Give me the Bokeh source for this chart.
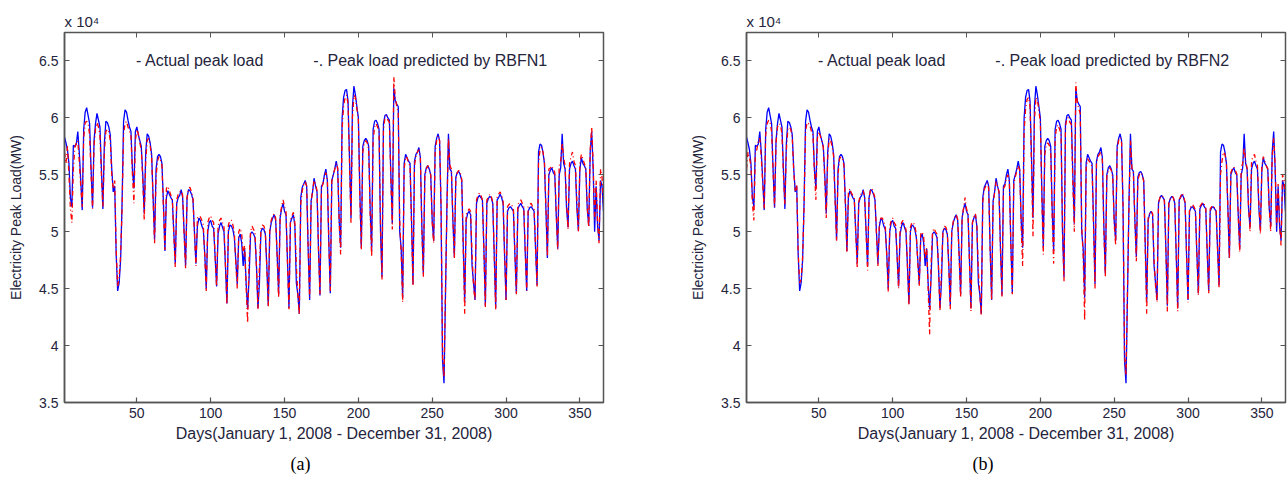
from bokeh.plotting import figure
from bokeh.models import Range1d, LinearAxis, FixedTicker, CustomJSTickFormatter, Label, Title
from bokeh.layouts import row
from bokeh.embed import file_html
from bokeh.resources import INLINE

# Electricity peak load, units of 10^4 MW, day 1 = Jan 1 2008 (Tue)
days = list(range(1, 367))

actual = [
    5.83, 5.78, 5.72, 5.60, 5.30, 5.22,
    5.76, 5.75, 5.77, 5.88, 5.70, 5.45, 5.19,
    5.90, 6.05, 6.09, 6.02, 5.95, 5.55, 5.21,
    5.80, 5.95, 6.04, 5.98, 5.92, 5.55, 5.20,
    5.78, 5.97, 5.96, 5.92, 5.85, 5.55, 5.35,
    5.40, 4.80, 4.48, 4.55, 4.75, 5.26, 5.97,
    6.07, 6.05, 5.98, 5.92, 5.88, 5.55, 5.38,
    5.88, 5.92, 5.85, 5.80, 5.75, 5.50, 5.16,
    5.70, 5.86, 5.84, 5.78, 5.68, 5.30, 4.93,
    5.55, 5.66, 5.68, 5.66, 5.60, 5.25, 4.83,
    5.30, 5.36, 5.33, 5.30, 5.28, 5.00, 4.72,
    5.25, 5.30, 5.32, 5.37, 5.30, 5.00, 4.70,
    5.30, 5.37, 5.36, 5.33, 5.28, 5.00, 4.72,
    5.05, 5.12, 5.10, 5.05, 5.02, 4.80, 4.50,
    5.00, 5.08, 5.10, 5.05, 5.03, 4.78, 4.52,
    4.98, 5.05, 5.08, 5.04, 5.00, 4.70, 4.37,
    5.00, 5.06, 5.05, 5.02, 4.95, 4.75, 4.54,
    4.95, 4.98, 4.90, 4.70, 4.85, 4.55, 4.32,
    4.60, 4.98, 5.00, 4.98, 4.95, 4.70, 4.33,
    4.55, 5.00, 5.03, 5.02, 4.98, 4.70, 4.35,
    5.00, 5.08, 5.12, 5.15, 5.10, 4.80, 4.45,
    5.12, 5.20, 5.25, 5.18, 5.15, 4.75, 4.33,
    5.08, 5.12, 5.15, 5.05, 4.55, 4.45, 4.28,
    5.30, 5.39, 5.42, 5.45, 5.40, 4.85, 4.40,
    5.27, 5.35, 5.47, 5.40, 5.35, 4.85, 4.44,
    5.40, 5.42, 5.50, 5.55, 5.45, 4.90, 4.46,
    5.45, 5.50, 5.55, 5.62, 5.55, 5.10, 4.86,
    6.00, 6.18, 6.24, 6.25, 6.15, 5.65, 5.12,
    6.10, 6.28, 6.20, 6.10, 6.00, 5.35, 4.86,
    5.75, 5.80, 5.82, 5.80, 5.75, 5.20, 4.83,
    5.90, 5.97, 5.98, 5.95, 5.90, 5.00, 4.60,
    5.95, 6.02, 6.03, 6.00, 5.98, 5.50, 5.07,
    6.26, 6.15, 6.12, 6.10, 5.00, 4.85, 4.42,
    5.60, 5.68, 5.65, 5.62, 5.60, 5.10, 4.54,
    5.62, 5.68, 5.70, 5.74, 5.65, 5.05, 4.63,
    5.50, 5.56, 5.58, 5.55, 5.50, 5.10, 4.92,
    5.75, 5.82, 5.86, 5.80, 5.20, 3.87, 3.67,
    4.45, 5.25, 5.86, 5.55, 5.53, 5.10, 4.78,
    5.48, 5.52, 5.53, 5.50, 5.45, 4.90, 4.38,
    5.10, 5.16, 5.18, 5.15, 4.70, 4.55, 4.40,
    5.25, 5.30, 5.32, 5.30, 5.28, 4.85, 4.35,
    5.25, 5.29, 5.31, 5.30, 5.25, 4.80, 4.33,
    5.28, 5.30, 5.33, 5.30, 5.25, 4.80, 4.40,
    5.18, 5.21, 5.22, 5.20, 5.18, 4.80, 4.46,
    5.20, 5.23, 5.25, 5.22, 5.20, 4.82, 4.48,
    5.18, 5.21, 5.22, 5.20, 5.18, 4.85, 4.53,
    5.70, 5.77, 5.76, 5.70, 5.60, 5.20, 4.77,
    5.50, 5.54, 5.56, 5.52, 5.50, 5.15, 4.85,
    5.50, 5.56, 5.86, 5.60, 5.55, 5.20, 5.04,
    5.55, 5.60, 5.62, 5.58, 5.55, 5.20, 5.01,
    5.55, 5.65, 5.60, 5.58, 5.55, 5.20, 5.05,
    5.70, 5.88, 5.55, 5.00, 5.40, 5.05, 4.92,
    5.45, 5.40, 5.18,
]

pred_rbfn1 = [
    5.70, 5.60, 5.75, 5.50, 5.20, 5.08,
    5.55, 5.74, 5.78, 5.80, 5.62, 5.40, 5.22,
    5.82, 5.96, 5.97, 5.95, 5.85, 5.50, 5.20,
    5.75, 5.90, 5.96, 5.92, 5.85, 5.50, 5.22,
    5.70, 5.88, 5.90, 5.88, 5.80, 5.50, 5.38,
    5.45, 4.85, 4.52, 4.60, 4.80, 5.20, 5.85,
    5.95, 5.97, 5.92, 5.88, 5.84, 5.50, 5.25,
    5.80, 5.90, 5.86, 5.78, 5.72, 5.45, 5.10,
    5.62, 5.80, 5.82, 5.76, 5.65, 5.28, 4.90,
    5.48, 5.62, 5.66, 5.63, 5.58, 5.20, 4.84,
    5.38, 5.40, 5.36, 5.32, 5.30, 4.98, 4.69,
    5.28, 5.33, 5.35, 5.36, 5.32, 4.98, 4.68,
    5.30, 5.38, 5.39, 5.35, 5.30, 4.98, 4.70,
    5.12, 5.14, 5.13, 5.10, 5.06, 4.78, 4.48,
    5.08, 5.12, 5.14, 5.10, 5.08, 4.78, 4.52,
    5.05, 5.10, 5.12, 5.08, 5.04, 4.70, 4.36,
    5.06, 5.10, 5.10, 5.06, 5.00, 4.72, 4.50,
    5.00, 5.03, 4.98, 4.80, 4.88, 4.52, 4.20,
    4.75, 5.00, 5.05, 5.02, 5.00, 4.68, 4.32,
    4.70, 5.02, 5.06, 5.05, 5.01, 4.68, 4.34,
    5.02, 5.10, 5.14, 5.16, 5.12, 4.78, 4.42,
    5.14, 5.22, 5.28, 5.22, 5.18, 4.72, 4.32,
    5.10, 5.14, 5.17, 5.08, 4.70, 4.45, 4.27,
    5.25, 5.36, 5.42, 5.44, 5.40, 4.86, 4.42,
    5.26, 5.36, 5.45, 5.42, 5.36, 4.84, 4.45,
    5.38, 5.42, 5.48, 5.52, 5.46, 4.90, 4.48,
    5.44, 5.50, 5.55, 5.60, 5.56, 5.08, 4.80,
    5.90, 6.10, 6.18, 6.20, 6.12, 5.60, 5.08,
    6.00, 6.20, 6.18, 6.08, 5.98, 5.30, 4.84,
    5.70, 5.78, 5.80, 5.78, 5.72, 5.15, 4.78,
    5.80, 5.92, 5.95, 5.92, 5.88, 5.05, 4.58,
    5.90, 6.00, 6.02, 5.98, 5.96, 5.45, 5.02,
    6.36, 6.18, 6.10, 6.05, 5.10, 4.80, 4.38,
    5.55, 5.66, 5.65, 5.60, 5.58, 5.05, 4.52,
    5.58, 5.66, 5.70, 5.72, 5.64, 5.00, 4.60,
    5.48, 5.55, 5.58, 5.56, 5.50, 5.08, 4.90,
    5.70, 5.80, 5.84, 5.80, 5.25, 3.90, 3.72,
    4.48, 5.20, 5.82, 5.58, 5.55, 5.12, 4.76,
    5.46, 5.52, 5.54, 5.52, 5.46, 4.86, 4.28,
    5.15, 5.18, 5.20, 5.18, 4.80, 4.52, 4.40,
    5.28, 5.32, 5.34, 5.32, 5.28, 4.84, 4.34,
    5.28, 5.30, 5.33, 5.31, 5.26, 4.80, 4.32,
    5.30, 5.33, 5.35, 5.32, 5.28, 4.82, 4.40,
    5.22, 5.24, 5.25, 5.23, 5.20, 4.82, 4.45,
    5.24, 5.26, 5.28, 5.25, 5.22, 4.84, 4.48,
    5.22, 5.24, 5.25, 5.22, 5.20, 4.86, 4.52,
    5.60, 5.72, 5.74, 5.70, 5.62, 5.22, 4.78,
    5.55, 5.56, 5.58, 5.55, 5.52, 5.16, 4.84,
    5.58, 5.62, 5.78, 5.65, 5.58, 5.25, 5.02,
    5.60, 5.66, 5.70, 5.62, 5.58, 5.25, 5.00,
    5.60, 5.68, 5.64, 5.60, 5.56, 5.22, 5.04,
    5.72, 5.92, 5.60, 5.10, 5.45, 5.08, 4.90,
    5.55, 5.48, 5.25,
]

pred_rbfn2 = [
    5.55, 5.70, 5.65, 5.58, 5.25, 5.10,
    5.70, 5.72, 5.80, 5.82, 5.65, 5.42, 5.20,
    5.85, 5.95, 5.98, 5.96, 5.88, 5.52, 5.22,
    5.78, 5.92, 5.95, 5.94, 5.86, 5.50, 5.24,
    5.72, 5.90, 5.92, 5.90, 5.82, 5.52, 5.36,
    5.42, 4.82, 4.55, 4.58, 4.78, 5.22, 5.88,
    5.96, 5.95, 5.93, 5.88, 5.85, 5.52, 5.28,
    5.82, 5.88, 5.84, 5.80, 5.74, 5.46, 5.12,
    5.65, 5.82, 5.80, 5.75, 5.66, 5.26, 4.92,
    5.50, 5.64, 5.66, 5.64, 5.58, 5.22, 4.82,
    5.34, 5.38, 5.34, 5.32, 5.29, 4.98, 4.68,
    5.26, 5.32, 5.34, 5.36, 5.31, 4.98, 4.66,
    5.30, 5.37, 5.38, 5.34, 5.30, 4.98, 4.70,
    5.08, 5.12, 5.12, 5.08, 5.05, 4.78, 4.47,
    5.04, 5.10, 5.12, 5.08, 5.06, 4.78, 4.50,
    5.02, 5.08, 5.10, 5.06, 5.02, 4.70, 4.35,
    5.04, 5.08, 5.08, 5.05, 4.98, 4.72, 4.52,
    4.98, 5.00, 4.95, 4.76, 4.86, 4.50, 4.10,
    4.72, 5.00, 5.03, 5.00, 4.98, 4.68, 4.30,
    4.66, 5.00, 5.05, 5.04, 5.00, 4.68, 4.32,
    5.00, 5.09, 5.13, 5.15, 5.11, 4.78, 4.42,
    5.12, 5.21, 5.30, 5.20, 5.16, 4.72, 4.30,
    5.08, 5.13, 5.16, 5.06, 4.66, 4.45, 4.26,
    5.26, 5.37, 5.40, 5.43, 5.38, 4.84, 4.40,
    5.25, 5.34, 5.44, 5.40, 5.35, 4.84, 4.43,
    5.38, 5.40, 5.47, 5.50, 5.44, 4.88, 4.45,
    5.42, 5.48, 5.53, 5.58, 5.54, 5.05, 4.70,
    5.88, 6.08, 6.16, 6.18, 6.10, 5.58, 4.96,
    5.98, 6.18, 6.16, 6.06, 5.96, 5.28, 4.80,
    5.68, 5.76, 5.78, 5.76, 5.70, 5.12, 4.72,
    5.82, 5.92, 5.94, 5.90, 5.86, 5.02, 4.56,
    5.92, 6.00, 6.00, 5.96, 5.94, 5.42, 5.00,
    6.31, 6.14, 6.08, 6.04, 5.05, 4.78, 4.22,
    5.56, 5.64, 5.62, 5.60, 5.57, 5.04, 4.50,
    5.60, 5.66, 5.68, 5.70, 5.62, 5.00, 4.60,
    5.48, 5.54, 5.56, 5.54, 5.48, 5.06, 4.88,
    5.72, 5.80, 5.83, 5.78, 5.22, 3.92, 3.74,
    4.50, 5.22, 5.80, 5.56, 5.52, 5.10, 4.74,
    5.45, 5.50, 5.52, 5.50, 5.44, 4.85, 4.28,
    5.12, 5.16, 5.18, 5.16, 4.75, 4.52, 4.38,
    5.26, 5.30, 5.32, 5.31, 5.27, 4.84, 4.30,
    5.26, 5.29, 5.31, 5.30, 5.26, 4.80, 4.30,
    5.28, 5.31, 5.34, 5.31, 5.26, 4.80, 4.38,
    5.20, 5.22, 5.24, 5.22, 5.19, 4.80, 4.44,
    5.22, 5.24, 5.26, 5.24, 5.21, 4.82, 4.46,
    5.20, 5.22, 5.23, 5.21, 5.19, 4.84, 4.50,
    5.50, 5.62, 5.70, 5.68, 5.60, 5.20, 4.76,
    5.52, 5.55, 5.57, 5.54, 5.51, 5.14, 4.82,
    5.56, 5.60, 5.74, 5.62, 5.56, 5.22, 5.00,
    5.62, 5.66, 5.68, 5.62, 5.58, 5.24, 4.98,
    5.58, 5.66, 5.62, 5.58, 5.55, 5.20, 5.00,
    5.66, 5.82, 5.58, 5.05, 5.42, 5.06, 4.88,
    5.50, 5.45, 5.28,
]

x_ticks = [50, 100, 150, 200, 250, 300, 350]
y_ticks = [3.5, 4.0, 4.5, 5.0, 5.5, 6.0, 6.5]
x_label = "Days(January 1, 2008 - December 31, 2008)"
y_label = "Electricity Peak Load(MW)"
actual_text = "- Actual peak load"
scale_text = "x 10\u2074"

FONT = "Liberation Sans"
TXT = "#24243c"
AX = "#555555"

fmt = CustomJSTickFormatter(code="return tick.toString();")


def make_panel(pred, pred_text, caption, width, height, bl, br, bt, bb, cap_off):
    p = figure(width=width, height=height, x_range=Range1d(1, 366), y_range=Range1d(3.5, 6.75),
               output_backend="svg", toolbar_location=None, title_location=None,
               min_border_left=bl, min_border_right=br, min_border_top=bt, min_border_bottom=bb,
               x_axis_label=x_label, y_axis_label=y_label)
    p.grid.visible = False
    p.outline_line_color = AX
    p.outline_line_width = 1.5
    p.background_fill_color = "white"
    p.border_fill_color = "white"

    for ax in (p.xaxis[0], p.yaxis[0]):
        ax.major_tick_in = 5
        ax.major_tick_out = 0
        ax.minor_tick_line_color = None
        ax.axis_line_color = AX
        ax.axis_line_width = 1.5
        ax.major_tick_line_color = AX
        ax.major_tick_line_width = 1.2
        ax.major_label_text_font = FONT
        ax.major_label_text_font_size = "14px"
        ax.major_label_text_color = TXT
        ax.axis_label_text_font = FONT
        ax.axis_label_text_font_style = "normal"
        ax.axis_label_text_color = TXT
        ax.formatter = fmt
    p.xaxis[0].ticker = FixedTicker(ticks=x_ticks)
    p.yaxis[0].ticker = FixedTicker(ticks=y_ticks)
    p.xaxis[0].axis_label_text_font_size = "16px"
    p.yaxis[0].axis_label_text_font_size = "14px"
    p.xaxis[0].major_label_standoff = 5
    p.xaxis[0].axis_label_standoff = 4
    p.yaxis[0].major_label_standoff = 6
    p.yaxis[0].axis_label_standoff = 12

    top = LinearAxis(ticker=FixedTicker(ticks=x_ticks), major_label_text_font_size="1px",
                     major_label_text_color=None,
                     major_tick_in=5, major_tick_out=0, minor_tick_line_color=None,
                     axis_line_color=AX, major_tick_line_color=AX, major_label_standoff=0)
    right = LinearAxis(ticker=FixedTicker(ticks=y_ticks), major_label_text_font_size="1px",
                       major_label_text_color=None,
                       major_tick_in=5, major_tick_out=0, minor_tick_line_color=None,
                       axis_line_color=AX, major_tick_line_color=AX, major_label_standoff=0)
    p.add_layout(top, "above")
    p.add_layout(right, "right")
    p.add_layout(Title(text=scale_text, align="left", offset=0, standoff=6,
                       text_font=FONT, text_font_size="15px", text_font_style="normal",
                       text_color=TXT), "above")
    p.add_layout(Title(text=caption, align="left", offset=cap_off, standoff=14,
                       text_font="Liberation Serif", text_font_size="18px", text_font_style="normal",
                       text_color="black"), "below")

    p.line(days, actual, line_color="#0000ff", line_width=1.3)
    p.line(days, pred, line_color="#ff0000", line_width=1.3, line_dash="5 3 1 3")

    p.add_layout(Label(x=49.5, y=6.5, text=actual_text, text_baseline="middle",
                       text_font=FONT, text_font_size="16px", text_color=TXT))
    p.add_layout(Label(x=169.5, y=6.5, text=pred_text, text_baseline="middle",
                       text_font=FONT, text_font_size="16px", text_color=TXT))
    return p


pa = make_panel(pred_rbfn1, "-. Peak load predicted by RBFN1", "(a)", 640, 483, 64, 37, 32, 81, 226)
pb = make_panel(pred_rbfn2, "-. Peak load predicted by RBFN2", "(b)", 647, 483, 106, 2, 30, 79, 226)

layout = row(pa, pb)
open("out.html", "w").write(file_html(layout, INLINE))
